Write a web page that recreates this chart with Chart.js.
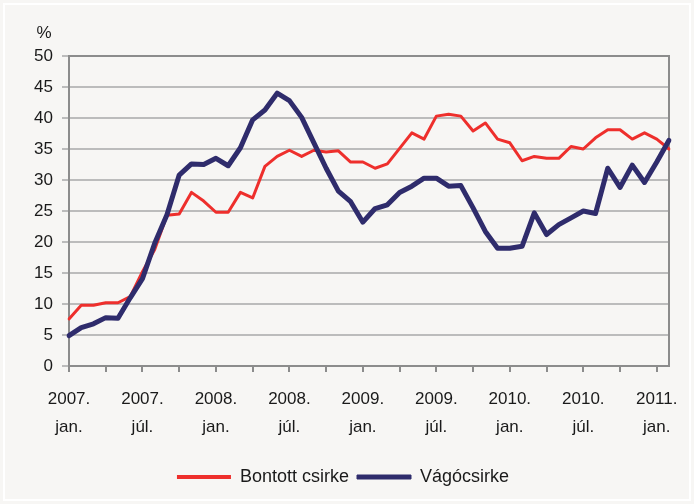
<!DOCTYPE html>
<html>
<head>
<meta charset="utf-8">
<script src="https://cdn.jsdelivr.net/npm/chart.js@4.4.1/dist/chart.umd.min.js"></script>
<style>
  body { margin: 0; background: #f7f6f4; }
  canvas { display: block; }
</style>
</head>
<body>
<canvas id="myChart" width="694" height="504"></canvas>
<script>
// monthly, 2007. jan. - 2011. febr.
var years = ["2007.", "2008.", "2009.", "2010.", "2011."];
var months = ["jan.", "febr.", "márc.", "ápr.", "máj.", "jún.", "júl.", "aug.", "szept.", "okt.", "nov.", "dec."];

var tickLabels = [
  ["2007.", "jan."], ["2007.", "júl."],
  ["2008.", "jan."], ["2008.", "júl."],
  ["2009.", "jan."], ["2009.", "júl."],
  ["2010.", "jan."], ["2010.", "júl."],
  ["2011.", "jan."]
];

var bontott = [7.6, 9.8, 9.8, 10.2, 10.2, 11.2, 15.2, 18.8, 24.3, 24.5,
  28.0, 26.6, 24.8, 24.8, 28.0, 27.1, 32.2, 33.8, 34.8, 33.8,
  34.8, 34.5, 34.7, 32.9, 32.9, 31.9, 32.6, 35.1, 37.6, 36.6,
  40.3, 40.6, 40.3, 37.9, 39.2, 36.6, 36.0, 33.1, 33.8, 33.5,
  33.5, 35.4, 35.0, 36.8, 38.1, 38.1, 36.6, 37.6, 36.6, 35.0];

var vago = [4.9, 6.2, 6.8, 7.8, 7.7, 11.0, 14.1, 19.8, 24.4, 30.8,
  32.6, 32.5, 33.5, 32.3, 35.2, 39.7, 41.3, 44.0, 42.8, 40.1,
  36.0, 31.9, 28.2, 26.5, 23.2, 25.4, 26.0, 28.0, 29.0, 30.3,
  30.3, 29.0, 29.1, 25.5, 21.7, 19.0, 19.0, 19.3, 24.7, 21.2,
  22.8, 23.9, 25.0, 24.6, 31.9, 28.8, 32.4, 29.6, 32.9, 36.4];

var categories = [];
for (var i = 0; i < bontott.length; i++) {
  categories.push(years[Math.floor(i / 12)] + " " + months[i % 12]);
}

var RED = "#ee2f2c";
var BLUE = "#2f2c6c";
var FONT = "'Liberation Sans', Arial, sans-serif";

// background, white inner frame, plot frame and the % sign
var decor = {
  id: "decor",
  beforeDraw: function(chart) {
    var c = chart.ctx;
    c.save();
    c.fillStyle = "#f7f6f4";
    c.fillRect(0, 0, chart.width, chart.height);
    c.strokeStyle = "#ffffff";
    c.lineWidth = 2;
    c.strokeRect(4, 4, chart.width - 8, chart.height - 8);
    c.restore();
  },
  beforeDatasetsDraw: function(chart) {
    var a = chart.chartArea;
    var c = chart.ctx;
    c.save();
    c.strokeStyle = "#8c8c8c";
    c.lineWidth = 2;
    c.strokeRect(a.left, a.top, a.right - a.left, a.bottom - a.top);
    c.restore();
  },
  afterDraw: function(chart) {
    var a = chart.chartArea;
    var c = chart.ctx;
    c.save();
    c.fillStyle = "#1a1a1a";
    c.font = "17px " + FONT;
    c.textAlign = "center";
    c.textBaseline = "middle";
    c.fillText("%", a.left - 25, a.top - 23);
    c.restore();
  }
};

var chartOptions = {
  type: "line",
  data: {
    labels: categories,
    datasets: [{
      label: "Bontott csirke",
      data: bontott,
      borderColor: RED,
      backgroundColor: RED,
      borderWidth: 3,
      order: 1
    }, {
      label: "Vágócsirke",
      data: vago,
      borderColor: BLUE,
      backgroundColor: BLUE,
      borderWidth: 5,
      order: 0
    }]
  },
  options: {
    responsive: false,
    animation: false,
    elements: {
      point: { radius: 0, hoverRadius: 0 },
      line: { tension: 0, borderJoinStyle: "round", borderCapStyle: "round" }
    },
    layout: {
      padding: { top: 56, right: 25, left: 17, bottom: 8 }
    },
    scales: {
      x: {
        offset: false,
        grid: {
          drawOnChartArea: false,
          drawTicks: true,
          tickLength: 6,
          lineWidth: 2,
          color: function(ctx) { return ctx.index % 3 === 0 ? "#8c8c8c" : "rgba(0,0,0,0)"; }
        },
        border: { color: "#8c8c8c", width: 2 },
        ticks: {
          autoSkip: false,
          maxRotation: 0,
          padding: 14,
          color: "#1a1a1a",
          font: { family: FONT, size: 17, lineHeight: 1.62 },
          callback: function(v, i) { return i % 6 === 0 ? tickLabels[i / 6] : ""; }
        },
        afterFit: function(s) { s.height = 94; }
      },
      y: {
        min: 0,
        max: 50,
        ticks: {
          stepSize: 5,
          padding: 9,
          color: "#1a1a1a",
          font: { family: FONT, size: 17 }
        },
        grid: {
          color: "#bcbcbc",
          lineWidth: 2,
          tickLength: 7
        },
        border: { color: "#8c8c8c", width: 2 },
        afterFit: function(s) { s.width = 52; }
      }
    },
    plugins: {
      tooltip: { enabled: false },
      legend: {
        position: "bottom",
        labels: {
          boxWidth: 54,
          boxHeight: 4,
          padding: 8,
          color: "#1a1a1a",
          font: { family: FONT, size: 18 },
          generateLabels: function(chart) {
            return chart.data.datasets.map(function(ds, i) {
              return {
                text: ds.label,
                fillStyle: ds.borderColor,
                strokeStyle: ds.borderColor,
                lineWidth: i === 1 ? 1 : 0,
                fontColor: "#1a1a1a",
                datasetIndex: i,
                hidden: false
              };
            });
          }
        }
      }
    }
  },
  plugins: [decor]
};

var ctx = document.getElementById("myChart").getContext("2d");
var myChart = new Chart(ctx, chartOptions);
</script>
</body>
</html>
